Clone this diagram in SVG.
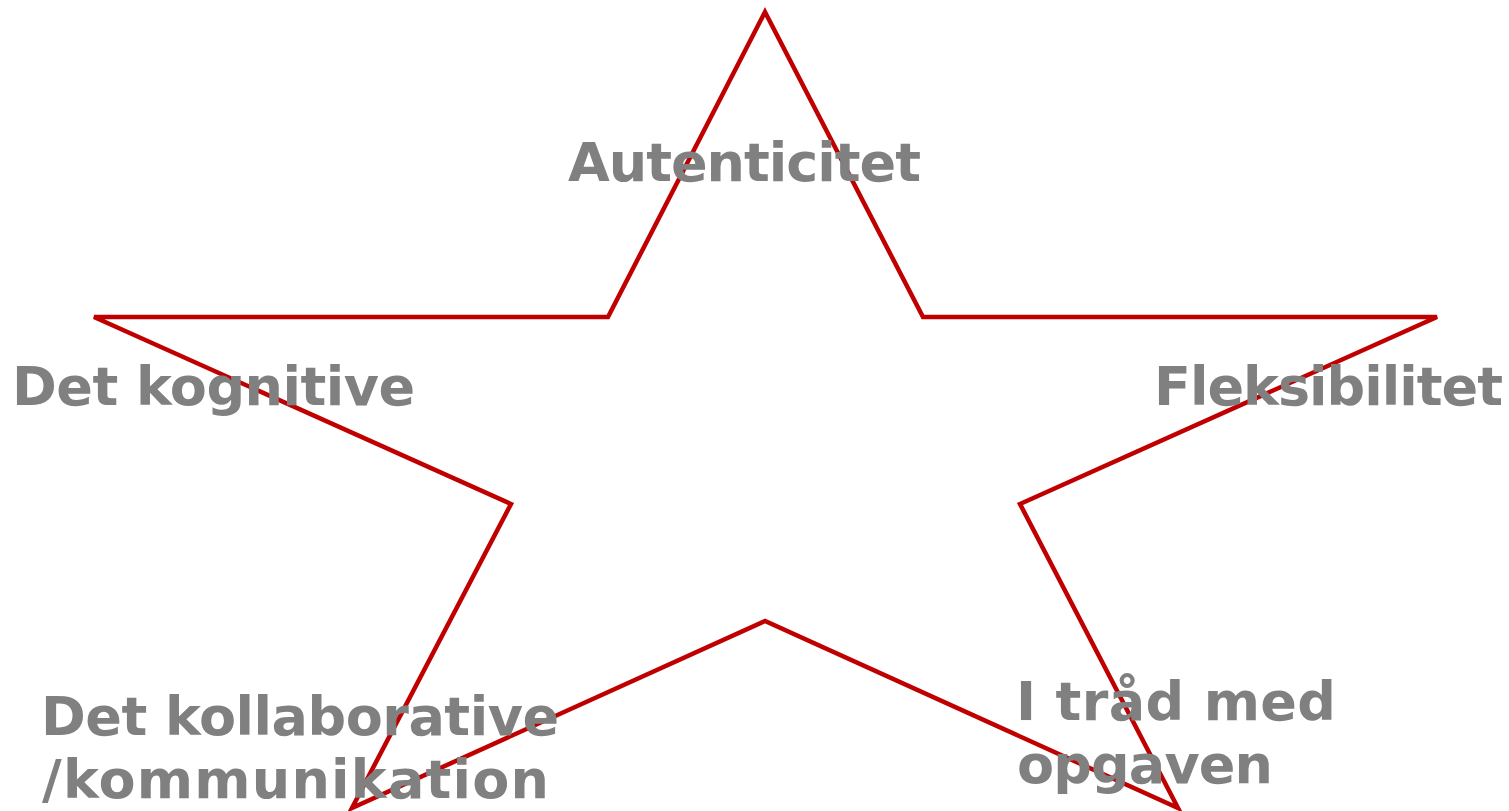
<svg xmlns="http://www.w3.org/2000/svg" width="1509" height="811" viewBox="0 0 1509 811">
<style>
.lbl{font-family:"DejaVu Sans",Verdana,sans-serif;font-weight:bold;font-size:54px;fill:#808080}
</style>
<rect width="1509" height="811" fill="#ffffff"/>
<g id="star">
<polygon points="765,12 923,317 1437,317 1020,504 1178,808 765,621 352,808 511,504 94,317 608,317" fill="none" stroke="#C00000" stroke-width="4.5"/>
</g>
<g id="autenticitet"><text class="lbl" x="568" y="181" textLength="353" lengthAdjust="spacing">Autenticitet</text></g>
<g id="kognitive"><text class="lbl" x="12" y="405" textLength="403" lengthAdjust="spacing">Det kognitive</text></g>
<g id="fleksibilitet"><text class="lbl" x="1154" y="405" textLength="349" lengthAdjust="spacing">Fleksibilitet</text></g>
<g id="kollaborative"><text class="lbl" x="41" y="735" textLength="518" lengthAdjust="spacing">Det kollaborative</text><text class="lbl" x="42" y="798" textLength="507" lengthAdjust="spacing">/kommunikation</text></g>
<g id="opgaven"><text class="lbl" x="1016" y="720" textLength="320" lengthAdjust="spacing">I tråd med</text><text class="lbl" x="1017" y="783" textLength="256" lengthAdjust="spacing">opgaven</text></g>
</svg>
